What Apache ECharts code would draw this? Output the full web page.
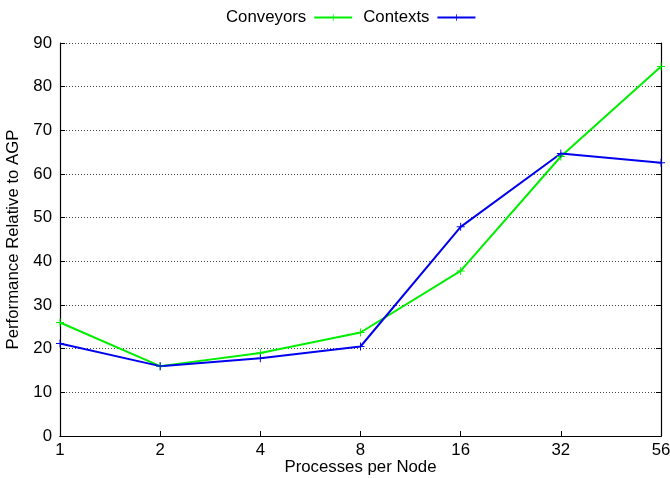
<!DOCTYPE html>
<html>
<head>
<meta charset="utf-8">
<script src="https://cdn.jsdelivr.net/npm/echarts@6/dist/echarts.min.js"></script>
<style>
html, body { margin: 0; padding: 0; background: #fff; }
#chart { width: 670px; height: 478px; }
</style>
</head>
<body>
<div id="chart"></div>
<script>
// processes per node
var categories = ['1', '2', '4', '8', '16', '32', '56'];
var conveyors = [26, 16, 19, 23.7, 37.8, 64, 84.6];
var contexts = [21.2, 16, 17.8, 20.5, 47.9, 64.7, 62.6];

var plus = 'path://M-1.2,-10H1.2V-1.2H10V1.2H1.2V10H-1.2V1.2H-10V-1.2H-1.2Z';
var font = 'Liberation Sans, Arial, sans-serif';
var fs = 16.8;

var chart = echarts.init(document.getElementById('chart'));

chart.setOption({
    animation: false,
    textStyle: { fontFamily: font },
    grid: { left: 60, right: 9, top: 43, bottom: 42, containLabel: false, outerBoundsMode: 'none' },
    legend: {
        top: 4,
        left: 221,
        align: 'right',
        itemWidth: 38,
        itemHeight: 8,
        itemGap: 10,
        textStyle: { fontSize: fs, color: '#000', fontFamily: font, padding: [0, 3, 0, 0] },
        data: ['Conveyors', 'Contexts']
    },
    xAxis: [{
        type: 'category',
        data: categories,
        boundaryGap: false,
        name: 'Processes per Node',
        nameLocation: 'middle',
        nameGap: 23,
        nameMoveOverlap: false,
        nameTextStyle: { fontSize: fs, color: '#000' },
        axisLine: { lineStyle: { color: '#000', width: 1.2 } },
        axisTick: { inside: true, length: 5, lineStyle: { color: '#000' } },
        axisLabel: { fontSize: fs, color: '#000', margin: 6 },
        splitLine: { show: false }
    }, {
        type: 'category',
        data: categories,
        boundaryGap: false,
        position: 'top',
        axisLine: { lineStyle: { color: '#000', width: 1.2 } },
        axisTick: { show: false },
        axisLabel: { show: false }
    }],
    yAxis: [{
        type: 'value',
        min: 0,
        max: 90,
        interval: 10,
        name: 'Performance Relative to AGP',
        nameLocation: 'middle',
        nameGap: 38,
        nameMoveOverlap: false,
        nameTextStyle: { fontSize: fs, color: '#000' },
        axisLine: { show: true, lineStyle: { color: '#000', width: 1.2 } },
        axisTick: { show: true, inside: true, length: 5, lineStyle: { color: '#000' } },
        axisLabel: { fontSize: fs, color: '#000', margin: 8 },
        splitLine: { show: true, lineStyle: { color: '#444', type: [1, 2], width: 1 } }
    }, {
        type: 'value',
        min: 0,
        max: 90,
        interval: 10,
        position: 'right',
        axisLine: { show: true, lineStyle: { color: '#000', width: 1.2 } },
        axisTick: { show: true, inside: true, length: 5, lineStyle: { color: '#000' } },
        axisLabel: { show: false },
        splitLine: { show: false }
    }],
    series: [{
        name: 'Conveyors',
        type: 'line',
        data: conveyors,
        color: '#00ee00',
        symbol: plus,
        symbolSize: 8,
        showSymbol: true,
        lineStyle: { width: 2, color: '#00ee00' },
        itemStyle: { color: '#00ee00' }
    }, {
        name: 'Contexts',
        type: 'line',
        data: contexts,
        color: '#0000ee',
        symbol: plus,
        symbolSize: 8,
        showSymbol: true,
        lineStyle: { width: 2, color: '#0000ee' },
        itemStyle: { color: '#0000ee' }
    }]
});
</script>
</body>
</html>
